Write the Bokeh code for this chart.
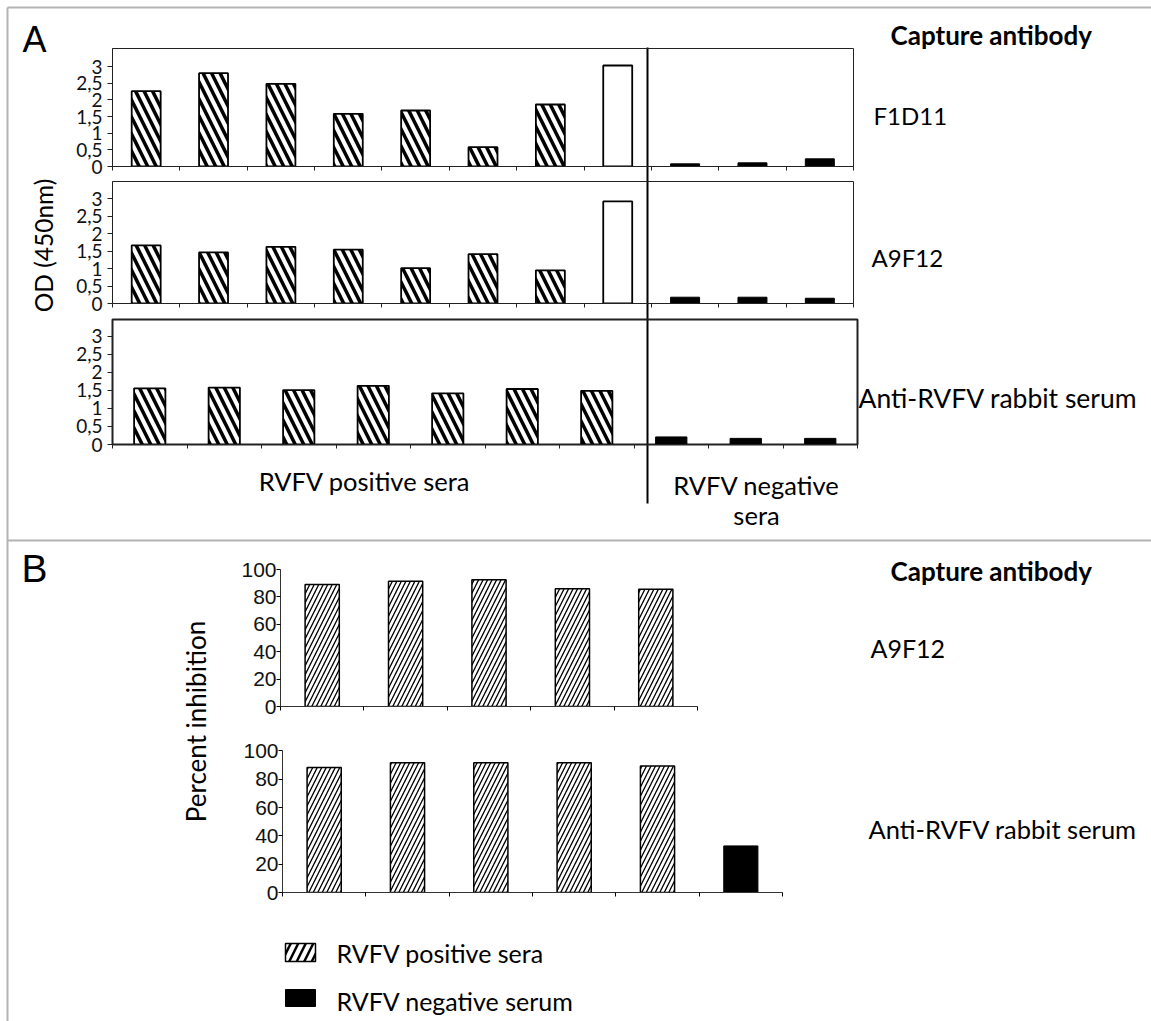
import math
from bokeh.plotting import figure
from bokeh.layouts import column
from bokeh.models import Range1d, FixedTicker, CustomJSTickFormatter
from bokeh.embed import file_html
from bokeh.resources import INLINE
from bokeh.core.properties import value

W, H = 1151, 1021

# ---------------- Panel A data (OD 450nm) ----------------
f1d11_pos = [2.26, 2.80, 2.48, 1.58, 1.68, 0.58, 1.86]
f1d11_ctrl = [3.03]
f1d11_neg = [0.08, 0.11, 0.23]

a9f12_pos = [1.66, 1.46, 1.62, 1.54, 1.01, 1.41, 0.95]
a9f12_ctrl = [2.92]
a9f12_neg = [0.18, 0.18, 0.15]

rabbit_pos = [1.56, 1.58, 1.51, 1.63, 1.42, 1.54, 1.49]
rabbit_neg = [0.21, 0.17, 0.17]

od_ticks = [0, 0.5, 1, 1.5, 2, 2.5, 3]

# ---------------- Panel B data (percent inhibition) ----------------
b_a9f12_pos = [89.0, 91.5, 92.5, 86.0, 85.5]
b_rabbit_pos = [88.2, 91.7, 91.7, 91.7, 89.3]
b_rabbit_neg = [32.9]

pct_ticks = [0, 20, 40, 60, 80, 100]

CAL = "Lato"
ARIAL = "Liberation Sans"


def overlay(l, t, r, b, xr, yr):
    p = figure(width=W, height=H, x_range=xr, y_range=yr,
               output_backend="svg", toolbar_location=None,
               min_border_left=l, min_border_right=W - r,
               min_border_top=t, min_border_bottom=H - b,
               background_fill_alpha=0, border_fill_alpha=0,
               outline_line_color=None, frame_align=False)
    p.grid.visible = False
    p.margin = (-H, 0, 0, 0)
    return p


def style_a(p, ncat, outline_w):
    p.yaxis.ticker = FixedTicker(ticks=od_ticks)
    p.yaxis.formatter = CustomJSTickFormatter(code="return tick.toString().replace('.', ',');")
    p.yaxis.major_label_text_font = CAL
    p.yaxis.major_label_text_font_size = "19px"
    p.yaxis.major_label_text_color = "#111111"
    p.yaxis.major_tick_out = 5
    p.yaxis.major_tick_in = 0
    p.yaxis.minor_tick_out = 0
    p.yaxis.minor_tick_in = 0
    p.yaxis.major_label_standoff = 5
    p.yaxis.axis_line_color = "#222222"
    p.yaxis.major_tick_line_color = "#222222"
    p.xaxis.ticker = FixedTicker(ticks=list(range(ncat + 1)))
    p.xaxis.formatter = CustomJSTickFormatter(code="return '';")
    p.xaxis.major_tick_out = 4
    p.xaxis.major_tick_in = 0
    p.xaxis.minor_tick_out = 0
    p.xaxis.minor_tick_in = 0
    p.xaxis.axis_line_color = "#222222"
    p.xaxis.major_tick_line_color = "#222222"
    p.outline_line_color = "#222222"
    p.outline_line_width = outline_w
    p.outline_line_alpha = 1


def bars_a(p, pos, ctrl, neg, width):
    xs_pos = [i + 0.5 for i in range(len(pos))]
    p.vbar(x=xs_pos, top=pos, width=width, bottom=0, fill_color="white",
           line_color="black", line_width=1.8, hatch_pattern="\\", hatch_color="black",
           hatch_weight=3.5, hatch_scale=17)
    start = len(pos)
    if ctrl:
        xs_c = [start + i + 0.5 for i in range(len(ctrl))]
        p.vbar(x=xs_c, top=ctrl, width=width, bottom=0, fill_color="white",
               line_color="black", line_width=1.8)
        start += len(ctrl)
    xs_n = [start + i + 0.5 for i in range(len(neg))]
    p.vbar(x=xs_n, top=neg, width=width, bottom=0, fill_color="black",
           line_color="black", line_width=1)


# ---------------- background canvas: frames, labels, legend ----------------
c = figure(width=W, height=H, x_range=Range1d(0, W), y_range=Range1d(H, 0),
           output_backend="svg", toolbar_location=None, min_border=0,
           x_axis_location=None, y_axis_location=None, outline_line_color=None,
           frame_align=False)
c.grid.visible = False

gray = "#b4b4b4"
c.segment(x0=[7, 7, 7], y0=[7, 540, 7], x1=[W, W, 7], y1=[7, 540, H],
          line_color=gray, line_width=2)
# divider between positive and negative sera
c.segment(x0=[647], y0=[47], x1=[647], y1=[503], line_color="black", line_width=2)


def label(xs, ys, texts, size, font=CAL, align="left", bold=False, angle=0.0):
    c.text(x=xs, y=ys, text=texts, angle=[angle] * len(texts),
           text_font=value(font), text_font_size=value(size),
           text_font_style="bold" if bold else "normal",
           text_align=align, text_baseline="middle", text_color="black")


label([22], [39], ["A"], "36px", font=ARIAL)
label([21], [568], ["B"], "39px", font=ARIAL)
label([890, 890], [34, 570], ["Capture antibody", "Capture antibody"], "26px", bold=True)
label([873, 871], [115, 257], ["F1D11", "A9F12"], "24px")
label([870], [647], ["A9F12"], "25px")
label([858], [397], ["Anti-RVFV rabbit serum"], "26.5px")
label([868], [828], ["Anti-RVFV rabbit serum"], "25.5px")
label([364], [480], ["RVFV positive sera"], "25.5px", align="center")
label([756, 756], [484, 514], ["RVFV negative", "sera"], "25.5px", align="center")
label([43], [245], ["OD (450nm)"], "24.5px", align="center", angle=math.pi / 2)
label([195], [721], ["Percent inhibition"], "26px", align="center", angle=math.pi / 2)
label([336, 336], [952, 1000], ["RVFV positive sera", "RVFV negative serum"], "25px")

# legend keys
c.quad(left=[285], right=[315], top=[943], bottom=[961], fill_color="white",
       line_color="black", line_width=1.5, hatch_pattern="/", hatch_color="black",
       hatch_weight=2.5, hatch_scale=15)
c.quad(left=[285], right=[315], top=[989], bottom=[1006], fill_color="black",
       line_color="black", line_width=1)

# ---------------- Panel A subplots ----------------
n1 = len(f1d11_pos) + len(f1d11_ctrl) + len(f1d11_neg)
a1 = overlay(112, 48, 853, 166, Range1d(0, n1), Range1d(0, 3.54))
style_a(a1, n1, 1)
bars_a(a1, f1d11_pos, f1d11_ctrl, f1d11_neg, 0.43)

n2 = len(a9f12_pos) + len(a9f12_ctrl) + len(a9f12_neg)
a2 = overlay(112, 181, 853, 303, Range1d(0, n2), Range1d(0, 3.49))
style_a(a2, n2, 1)
bars_a(a2, a9f12_pos, a9f12_ctrl, a9f12_neg, 0.43)

n3 = len(rabbit_pos) + len(rabbit_neg)
a3 = overlay(112, 319, 857, 444, Range1d(0, n3), Range1d(0, 3.47))
style_a(a3, n3, 2)
bars_a(a3, rabbit_pos, [], rabbit_neg, 0.42)


# ---------------- Panel B subplots ----------------
def style_b(p, ncat):
    p.yaxis.ticker = FixedTicker(ticks=pct_ticks)
    p.yaxis.bounds = (0, 100)
    p.yaxis.major_label_text_font = ARIAL
    p.yaxis.major_label_text_font_size = "21px"
    p.yaxis.major_label_text_color = "#111111"
    p.yaxis.major_tick_out = 4
    p.yaxis.major_tick_in = 0
    p.yaxis.minor_tick_out = 0
    p.yaxis.minor_tick_in = 0
    p.yaxis.major_label_standoff = 0
    p.yaxis.axis_line_color = "#333333"
    p.xaxis.ticker = FixedTicker(ticks=list(range(ncat + 1)))
    p.xaxis.formatter = CustomJSTickFormatter(code="return '';")
    p.xaxis.major_tick_out = 4
    p.xaxis.major_tick_in = 0
    p.xaxis.minor_tick_out = 0
    p.xaxis.minor_tick_in = 0
    p.xaxis.axis_line_color = "#333333"


def bars_b(p, pos, neg):
    xs_pos = [i + 0.5 for i in range(len(pos))]
    p.vbar(x=xs_pos, top=pos, width=0.41, bottom=0, fill_color="white",
           line_color="black", line_width=1.5, hatch_pattern="/", hatch_color="black",
           hatch_weight=1.3, hatch_scale=9)
    if neg:
        xs_n = [len(pos) + i + 0.5 for i in range(len(neg))]
        p.vbar(x=xs_n, top=neg, width=0.41, bottom=0, fill_color="black",
               line_color="black", line_width=1)


nb1 = len(b_a9f12_pos)
b1 = overlay(280, 560, 697, 706, Range1d(0, nb1), Range1d(0, (706 - 560) / 1.37))
style_b(b1, nb1)
bars_b(b1, b_a9f12_pos, [])

nb2 = len(b_rabbit_pos) + len(b_rabbit_neg)
b2 = overlay(282, 745, 782, 892, Range1d(0, nb2), Range1d(0, (892 - 745) / 1.416))
style_b(b2, nb2)
bars_b(b2, b_rabbit_pos, b_rabbit_neg)

layout = column(c, a1, a2, a3, b1, b2, spacing=0)
open("out.html", "w").write(file_html(layout, INLINE))
